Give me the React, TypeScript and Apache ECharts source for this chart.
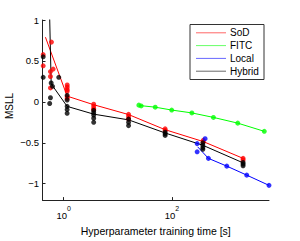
import React, { useEffect, useRef } from "react";
import * as echarts from "echarts";

// Scatter points: [training time (s), MSLL]
const SOD_PTS: [number, number][] = [
  [0.417, 0.577], [0.417, 0.44],
  [0.593, 0.73], [0.637, 0.40], [0.568, 0.37], [0.568, 0.31], [0.568, 0.17],
  [1.16, 0.206], [1.16, 0.18], [1.16, 0.15], [1.16, 0.13], [1.16, 0.062], [1.16, 0.042],
  [3.58, -0.028], [3.58, -0.055], [3.58, -0.082], [3.58, -0.094],
  [15.8, -0.152], [15.8, -0.18], [15.8, -0.21],
  [75, -0.33], [75, -0.35],
  [380, -0.47], [380, -0.49],
  [2070, -0.69], [2070, -0.71],
];
const FITC_PTS: [number, number][] = [
  [24.5, -0.04], [27, -0.05], [49.2, -0.065], [99.1, -0.1], [234, -0.135], [586, -0.19], [1651, -0.26], [5107, -0.36],
];
const LOCAL_PTS: [number, number][] = [
  [411, -0.45], [293, -0.51], [293, -0.61], [473, -0.69], [1035, -0.785], [2420, -0.895], [6240, -1.02],
];
const HYBRID_PTS: [number, number][] = [
  [0.417, 0.55], [0.417, 0.3],
  [0.586, 0.23], [0.62, 0.19], [0.568, 0.05], [0.55, -0.02], [0.809, 0.3],
  [1.156, 0.08], [1.156, 0.023], [1.156, -0.055], [1.156, -0.094], [1.156, -0.14],
  [3.58, -0.105], [3.58, -0.133], [3.58, -0.16], [3.58, -0.2], [3.58, -0.25],
  [15.8, -0.21], [15.8, -0.25], [15.8, -0.29],
  [75, -0.37], [75, -0.39], [75, -0.41],
  [373, -0.5], [373, -0.53], [373, -0.56], [373, -0.58],
  [2070, -0.74], [2070, -0.76], [2070, -0.78],
];

// Mean curves
const SOD_LINE: [number, number][] = [
  [0.459, 0.79], [1.156, 0.07], [3.58, -0.035], [15.8, -0.155], [75, -0.34], [380, -0.485], [2070, -0.69],
];
const FITC_LINE: [number, number][] = [
  [25.5, -0.045], [49.2, -0.065], [99.1, -0.1], [234, -0.135], [586, -0.19], [1651, -0.26], [5107, -0.36],
];
const LOCAL_LINE: [number, number][] = [
  [300, -0.55], [473, -0.69], [1035, -0.785], [2420, -0.895], [6240, -1.02],
];
const HYBRID_LINE: [number, number][] = [
  [0.542, 1.2], [0.586, 0.22], [1.156, -0.055], [3.58, -0.15], [15.8, -0.22], [75, -0.38], [373, -0.53], [2070, -0.745],
];

const NAMES = ["SoD", "FITC", "Local", "Hybrid"];
const COLORS = ["#ff0000", "#00ff00", "#0000ff", "#000000"];
const X_TICKS_S = [1, 100];
const Y_TICKS = [-1, -0.5, 0, 0.5, 1];
const X_MIN_S = 0.405;
const X_MAX_S = 6240;

const FONT = "Liberation Sans, Arial, Helvetica, sans-serif";

const lg = (p: [number, number][]) => p.map(([t, v]) => [Math.log10(t), v]);

export default function App() {
  const ref = useRef<HTMLDivElement>(null);
  useEffect(() => {
    if (!ref.current) return;
    const chart = echarts.init(ref.current, undefined, { renderer: "svg" });
    const lines = [SOD_LINE, FITC_LINE, LOCAL_LINE, HYBRID_LINE];
    const pts = [SOD_PTS, FITC_PTS, LOCAL_PTS, HYBRID_PTS];
    const series: any[] = [];
    for (let i = 0; i < 4; i++) {
      series.push({
        name: NAMES[i],
        type: "line",
        data: lg(lines[i]),
        symbol: "none",
        showSymbol: false,
        clip: true,
        lineStyle: { color: COLORS[i], width: 1 },
        itemStyle: { color: COLORS[i] },
        z: 2,
      });
    }
    for (let i = 0; i < 4; i++) {
      series.push({
        name: NAMES[i] + " runs",
        type: "scatter",
        data: lg(pts[i]),
        symbol: "circle",
        symbolSize: 5,
        clip: false,
        itemStyle: { color: COLORS[i] },
        z: 3,
      });
    }

    // legend box drawn as graphic
    const LX = 190, LY = 24.5, LW = 74, LH = 55, ROW = 12.8;
    const legendChildren: any[] = [
      {
        type: "rect",
        shape: { x: LX, y: LY, width: LW, height: LH },
        style: { fill: "#fff", stroke: "#333", lineWidth: 1 },
      },
    ];
    NAMES.forEach((n, i) => {
      const cy = LY + 8.3 + i * ROW;
      legendChildren.push({
        type: "line",
        shape: { x1: LX + 6, y1: cy, x2: LX + 36, y2: cy },
        style: { stroke: COLORS[i], lineWidth: 1, opacity: 0.6 },
      });
      legendChildren.push({
        type: "text",
        x: LX + 40,
        y: cy,
        style: { text: n, fontFamily: FONT, fontSize: 10, fill: "#000", verticalAlign: "middle" },
      });
    });

    chart.setOption({
      animation: false,
      textStyle: { fontFamily: FONT },
      grid: { left: 42.5, top: 20, width: 226.5, height: 187.7, containLabel: false },
      graphic: [
        { type: "group", z: 100, children: legendChildren },
        {
          type: "text",
          x: 9,
          y: 106,
          rotation: Math.PI / 2,
          style: { text: "MSLL", fontFamily: FONT, fontSize: 10, fill: "#000", align: "center", verticalAlign: "middle" },
        },
      ],
      xAxis: {
        type: "value",
        min: Math.log10(X_MIN_S),
        max: Math.log10(X_MAX_S),
        name: "Hyperparameter training time [s]",
        nameLocation: "middle",
        nameGap: 18.5,
        nameTextStyle: { fontFamily: FONT, fontSize: 10.5, color: "#000" },
        axisLine: { show: true, onZero: false, lineStyle: { color: "#222", width: 1 } },
        axisTick: { show: true, inside: true, length: 3, customValues: X_TICKS_S.map(Math.log10), lineStyle: { color: "#222" } },
        splitLine: { show: false },
        axisLabel: {
          customValues: X_TICKS_S.map(Math.log10),
          margin: 5,
          formatter: (v: number) => "{b|10}{s|" + Math.round(v) + "}",
          rich: {
            b: { fontFamily: FONT, fontSize: 9.5, lineHeight: 15, verticalAlign: "bottom", color: "#000" },
            s: { fontFamily: FONT, fontSize: 7, lineHeight: 6, verticalAlign: "top", color: "#000" },
          },
        },
      },
      yAxis: {
        type: "value",
        min: -1.2,
        max: 1,
        axisLine: { show: true, onZero: false, lineStyle: { color: "#222", width: 1 } },
        axisTick: { show: true, inside: true, length: 3, customValues: Y_TICKS, lineStyle: { color: "#222" } },
        splitLine: { show: false },
        axisLabel: {
          customValues: Y_TICKS,
          margin: 3.5,
          fontFamily: FONT,
          fontSize: 9.5,
          color: "#000",
          formatter: (v: number) => (v < 0 ? "\u2212" + String(Math.abs(v)) : String(v)),
        },
      },
      series,
    });
    return () => chart.dispose();
  }, []);
  return (
    <div
      ref={ref}
      style={{ position: "absolute", left: 0, top: 0, width: 300, height: 241, background: "#fff" }}
    />
  );
}
